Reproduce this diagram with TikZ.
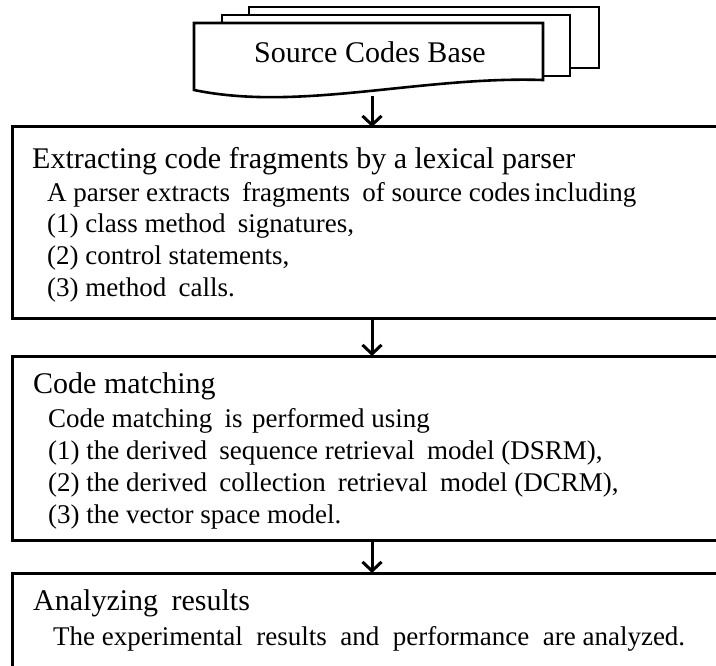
\documentclass[tikz,border=0pt]{standalone}
\usepackage{fontspec}
\setmainfont{Liberation Serif}
\usetikzlibrary{arrows.meta}

\tikzset{
  sheet/.style={draw=black, fill=white, line width=2.6pt, line join=miter},
  stepbox/.style={draw=black, line width=3pt, rectangle, inner sep=0pt, outer sep=0pt, anchor=north west},
  head/.style={anchor=base west, inner sep=0pt, font=\fontsize{30}{36}\selectfont},
  body/.style={anchor=base west, inner sep=0pt, font=\fontsize{27}{32}\selectfont},
  flow/.style={draw=black, line width=3pt, -{Straight Barb[length=9pt,width=19pt,line width=3pt]}},
}

\begin{document}
\begin{tikzpicture}[x=1pt,y=-1pt]
\useasboundingbox (0,0) rectangle (716,666);
\clip (0,0) rectangle (716,666);

% stack of source documents
\draw[sheet] (249,7) rectangle (599,68);
\draw[sheet] (222,15) rectangle (570,76);
\draw[sheet] (194,23) -- (543,23) -- (543,80)
  .. controls (420,76) and (300,112) .. (194,90) -- cycle;
\node[anchor=base, inner sep=0pt, font=\fontsize{30}{36}\selectfont] (src) at (370,63) {Source Codes Base};
\coordinate (srcbot) at (372,96);

% step 1: extraction
\node[stepbox, minimum width=740pt, minimum height=192pt] (extract) at (12,127) {};
\node[head] (h1) at (32,169) {Extracting code fragments by a lexical parser};
\node[body] (b11) at (47,202) {A parser extracts\hspace{0.2em} fragments\hspace{0.2em} of source codes\hspace{-0.1em} including};
\node[body] (b12) at (47,233) {(1) class method\hspace{0.2em} signatures,};
\node[body] (b13) at (47,265) {(2) control statements,};
\node[body] (b14) at (47,297) {(3) method\hspace{0.2em} calls.};

% step 2: matching
\node[stepbox, minimum width=740pt, minimum height=184pt] (match) at (12,356) {};
\node[head] (h2) at (33,393) {Code matching};
\node[body] (b21) at (48,427) {Code matching\hspace{0.2em} is\hspace{0.1em} performed using};
\node[body] (b22) at (48,459) {(1) the derived\hspace{0.2em} sequence retrieval\hspace{0.2em} model (DSRM),};
\node[body] (b23) at (48,491) {(2) the derived\hspace{0.2em} collection\hspace{0.2em} retrieval\hspace{0.2em} model (DCRM),};
\node[body] (b24) at (48,523) {(3) the vector space model.};

% step 3: analysis
\node[stepbox, minimum width=740pt, minimum height=140pt] (analyze) at (12,573) {};
\node[head] (h3) at (33,610) {Analyzing\hspace{0.2em} results};
\node[body] (b31) at (53,645) {The experimental\hspace{0.25em} results\hspace{0.25em} and\hspace{0.25em} performance\hspace{0.25em} are analyzed.};

% connectors
\coordinate (ax) at (372,0);
\draw[flow] (srcbot) -- (srcbot |- extract.north);
\draw[flow] (ax |- extract.south) -- (ax |- match.north);
\draw[flow] (ax |- match.south) -- (ax |- analyze.north);
\end{tikzpicture}
\end{document}
